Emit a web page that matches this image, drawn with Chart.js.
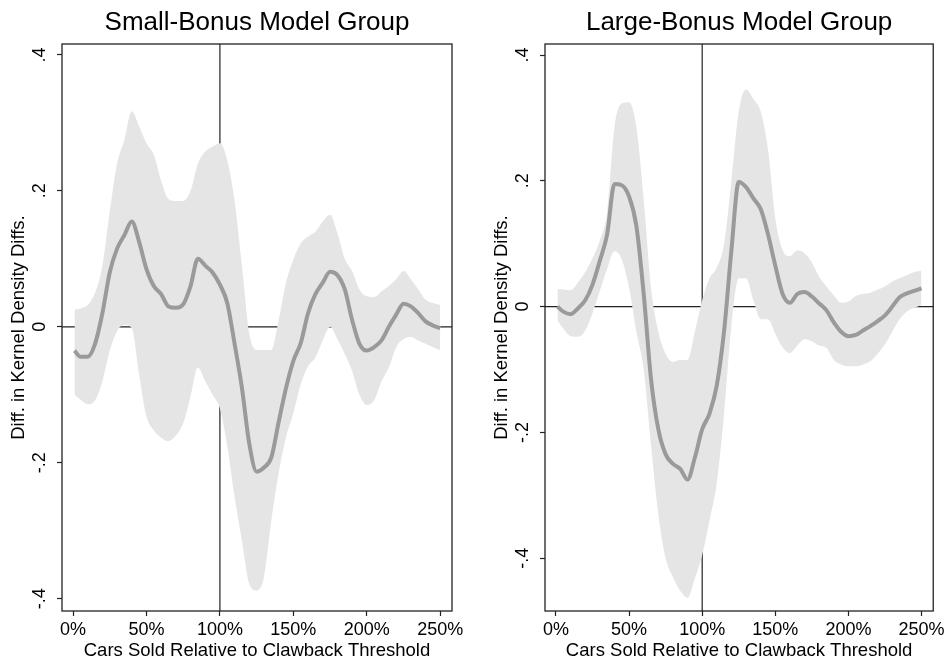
<!DOCTYPE html>
<html>
<head>
<meta charset="utf-8">
<title>Kernel density differences</title>
<script src="https://cdn.jsdelivr.net/npm/chart.js@4/dist/chart.umd.min.js"></script>
<style>
  body { margin: 0; background: #fff; }
  #wrap { display: flex; width: 948px; height: 660px; }
  canvas { display: block; }
</style>
</head>
<body>
<div id="wrap">
  <canvas id="small" width="474" height="660"></canvas>
  <canvas id="large" width="474" height="660"></canvas>
</div>
<script>
// x positions (% of clawback threshold) shared by every series
var xGrid = [1, 5, 10, 15, 20, 25, 30, 35, 40, 45, 50, 55, 60, 65, 70, 75, 80, 85, 90, 95,
  100, 105, 110, 115, 120, 125, 130, 135, 140, 145, 150, 155, 160, 165, 170, 175, 180, 185, 190, 195,
  200, 205, 210, 215, 220, 225, 230, 235, 240, 245, 250];

var xTicks = [0, 50, 100, 150, 200, 250];
var yTicks = [-0.4, -0.2, 0, 0.2, 0.4];
var yTickLabels = ['-.4', '-.2', '0', '.2', '.4'];

// Small-Bonus Model Group
var smallMean = [-0.035, -0.044, -0.044, -0.025, 0.02, 0.08, 0.115, 0.135, 0.155, 0.125,
  0.085, 0.06, 0.048, 0.03, 0.028, 0.033, 0.06, 0.1, 0.09, 0.08,
  0.062, 0.035, -0.025, -0.09, -0.172, -0.213, -0.207, -0.192, -0.14, -0.09,
  -0.05, -0.024, 0.02, 0.048, 0.065, 0.081, 0.076, 0.055, 0.01, -0.025,
  -0.035, -0.03, -0.02, 0.0, 0.018, 0.034, 0.03, 0.02, 0.008, 0.002, -0.002];
var smallUpper = [0.025, 0.027, 0.032, 0.05, 0.09, 0.17, 0.24, 0.275, 0.317, 0.295,
  0.27, 0.253, 0.215, 0.188, 0.185, 0.185, 0.2, 0.24, 0.258, 0.265,
  0.27, 0.245, 0.185, 0.09, -0.01, -0.034, -0.034, -0.034, 0.01, 0.065,
  0.099, 0.123, 0.133, 0.14, 0.155, 0.165, 0.138, 0.1, 0.082, 0.055,
  0.045, 0.044, 0.052, 0.06, 0.07, 0.082, 0.07, 0.055, 0.04, 0.035, 0.032];
var smallLower = [-0.1, -0.107, -0.114, -0.108, -0.08, -0.035, -0.006, 0.003, -0.002, -0.07,
  -0.132, -0.152, -0.163, -0.168, -0.16, -0.142, -0.103, -0.06, -0.08, -0.1,
  -0.12, -0.175, -0.25, -0.315, -0.378, -0.388, -0.368, -0.285, -0.215, -0.162,
  -0.127, -0.085, -0.058, -0.045, -0.02, 0.0, -0.018, -0.04, -0.065, -0.1,
  -0.115, -0.108, -0.08, -0.06, -0.03, -0.018, -0.015, -0.02, -0.025, -0.03, -0.034];

// Large-Bonus Model Group
var largeMean = [0, -0.008, -0.012, -0.003, 0.01, 0.035, 0.073, 0.115, 0.195, 0.193,
  0.175, 0.128, 0.02, -0.115, -0.195, -0.235, -0.25, -0.258, -0.275, -0.24,
  -0.195, -0.17, -0.125, -0.038, 0.09, 0.198, 0.19, 0.172, 0.155, 0.115,
  0.065, 0.02, 0.006, 0.02, 0.023, 0.016, 0.005, -0.006, -0.025, -0.04,
  -0.047, -0.045, -0.038, -0.031, -0.023, -0.014, 0.0, 0.015, 0.021, 0.025, 0.029];
var largeUpper = [0.028, 0.027, 0.026, 0.038, 0.055, 0.077, 0.105, 0.15, 0.285, 0.323,
  0.325, 0.285, 0.17, 0.03, -0.04, -0.075, -0.088, -0.085, -0.085, -0.04,
  0.01, 0.045, 0.062, 0.1, 0.2, 0.31, 0.345, 0.33, 0.31, 0.25,
  0.14, 0.09, 0.08, 0.089, 0.085, 0.07, 0.047, 0.032, 0.018, 0.006,
  0.008, 0.017, 0.02, 0.022, 0.027, 0.032, 0.04, 0.045, 0.05, 0.055, 0.057];
var largeLower = [-0.022, -0.035, -0.047, -0.048, -0.038, -0.01, 0.025, 0.06, 0.088, 0.075,
  0.03, -0.04, -0.1, -0.22, -0.33, -0.4, -0.43, -0.452, -0.463, -0.432,
  -0.395, -0.34, -0.28, -0.17, -0.03, 0.045, 0.045, 0.01, -0.02, -0.02,
  -0.043, -0.065, -0.074, -0.062, -0.052, -0.055, -0.062, -0.066, -0.085, -0.092,
  -0.095, -0.095, -0.092, -0.087, -0.075, -0.06, -0.04, -0.02, -0.008, -0.002, 0.002];

var FONT = '"Liberation Sans", Arial, Helvetica, sans-serif';

function pts(ys) {
  var out = [];
  for (var i = 0; i < ys.length; i++) out.push({ x: xGrid[i], y: ys[i] });
  return out;
}

// black box round the plot area
var frame = {
  id: 'frame',
  afterDraw: function(chart) {
    var a = chart.chartArea, ctx = chart.ctx;
    ctx.save();
    ctx.strokeStyle = '#222';
    ctx.lineWidth = 1.3;
    ctx.strokeRect(a.left, a.top, a.right - a.left, a.bottom - a.top);
    ctx.restore();
  }
};

function makeChart(id, opts) {
  var xMin = -7.5, xMax = 258;
  var ds = [
    { data: pts(opts.mean), borderColor: '#9a9a9a', borderWidth: 4, pointRadius: 0,
      cubicInterpolationMode: 'monotone', fill: false },
    { data: pts(opts.upper), borderWidth: 0, borderColor: 'rgba(0,0,0,0)', pointRadius: 0,
      backgroundColor: '#e5e5e5', cubicInterpolationMode: 'monotone', fill: '+1' },
    { data: pts(opts.lower), borderWidth: 0, borderColor: 'rgba(0,0,0,0)', pointRadius: 0,
      cubicInterpolationMode: 'monotone', fill: false },
    // reference lines at the threshold and at zero
    { data: [{ x: 100, y: opts.yMin }, { x: 100, y: opts.yMax }], borderColor: '#222',
      borderWidth: 1.2, pointRadius: 0, fill: false },
    { data: [{ x: xMin, y: 0 }, { x: xMax, y: 0 }], borderColor: '#222',
      borderWidth: 1.2, pointRadius: 0, fill: false }
  ];

  return new Chart(document.getElementById(id), {
    type: 'line',
    data: { datasets: ds },
    options: {
      responsive: false,
      devicePixelRatio: 1,
      animation: false,
      layout: { padding: { left: opts.padLeft, right: opts.padRight, top: 0, bottom: 0 } },
      plugins: {
        legend: { display: false },
        tooltip: { enabled: false },
        title: {
          display: true, text: opts.title, fullSize: false, color: '#000',
          font: { family: FONT, size: 26, weight: 'normal', lineHeight: 1.2 },
          padding: { top: 7, bottom: 5.8 }
        }
      },
      scales: {
        x: {
          type: 'linear', min: xMin, max: xMax,
          afterBuildTicks: function(s) { s.ticks = xTicks.map(function(v) { return { value: v }; }); },
          afterFit: function(s) { s.height = 49; },
          grid: { drawOnChartArea: false, drawTicks: true, tickLength: 5, tickColor: '#222', tickWidth: 1.2 },
          border: { display: false },
          ticks: {
            color: '#000', padding: 3, maxRotation: 0,
            font: { family: FONT, size: 18 },
            callback: function(v) { return v + '%'; }
          },
          title: {
            display: true, text: 'Cars Sold Relative to Clawback Threshold', color: '#000',
            font: { family: FONT, size: 18.5, lineHeight: 1 }, padding: { top: 0, bottom: 0 }
          }
        },
        y: {
          type: 'linear', min: opts.yMin, max: opts.yMax,
          afterBuildTicks: function(s) { s.ticks = yTicks.map(function(v) { return { value: v }; }); },
          afterFit: function(s) { s.width = opts.axisX - opts.padLeft; },
          grid: { drawOnChartArea: false, drawTicks: true, tickLength: 5, tickColor: '#222', tickWidth: 1.2 },
          border: { display: false },
          ticks: {
            color: '#000', padding: 6.5, minRotation: 90, maxRotation: 90, crossAlign: 'center',
            font: { family: FONT, size: 18 },
            callback: function(v) {
              var i = yTicks.indexOf(v);
              return i >= 0 ? yTickLabels[i] : '';
            }
          },
          title: {
            display: true, text: 'Diff. in Kernel Density Diffs.', color: '#000',
            font: { family: FONT, size: 18.5, lineHeight: 1.2 }, padding: { top: 2, bottom: 0 }
          }
        }
      }
    },
    plugins: [frame]
  });
}

makeChart('small', {
  title: 'Small-Bonus Model Group',
  mean: smallMean, upper: smallUpper, lower: smallLower,
  yMin: -0.418, yMax: 0.416,
  padLeft: 6, padRight: 22, axisX: 62
});

makeChart('large', {
  title: 'Large-Bonus Model Group',
  mean: largeMean, upper: largeUpper, lower: largeLower,
  yMin: -0.484, yMax: 0.4175,
  padLeft: 15, padRight: 13, axisX: 71
});
</script>
</body>
</html>
